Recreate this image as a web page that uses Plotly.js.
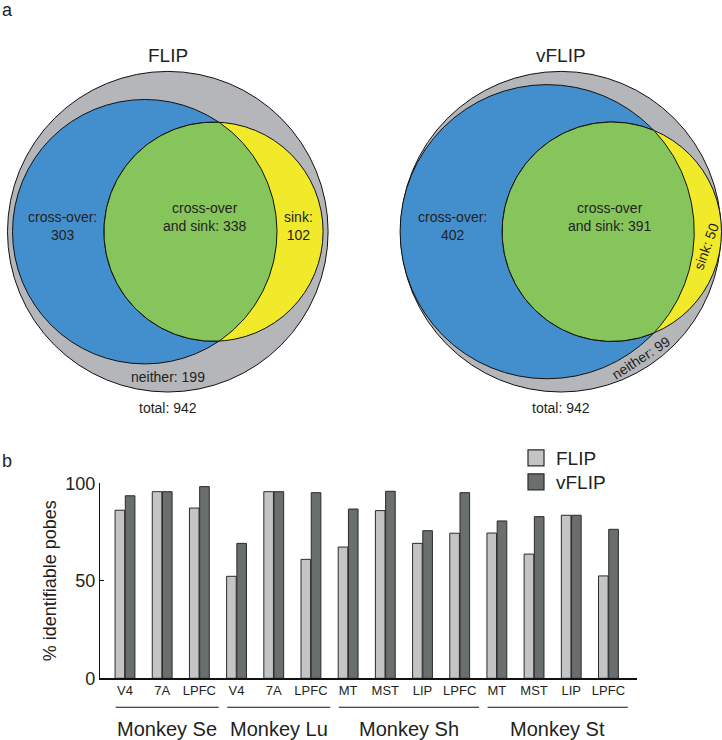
<!DOCTYPE html>
<html>
<head>
<meta charset="utf-8">
<script src="https://cdn.plot.ly/plotly-3.0.1.min.js"></script>
<style>html,body{margin:0;padding:0;background:#fff}#chart{width:722px;height:740px}</style>
</head>
<body>
<div id="chart"></div>
<script>
// ---------- Data ----------
// Panel a: Venn diagrams
const vennNames = ['FLIP', 'vFLIP'];
const crossOnly = [303, 402];
const crossAndSink = [338, 391];
const sinkOnly = [102, 50];
const neitherCount = [199, 99];
const totalCount = [942, 942];

// Panel b: grouped bars
const monkeys = ['Monkey Se', 'Monkey Lu', 'Monkey Sh', 'Monkey St'];
const areaLabels = ['V4', '7A', 'LPFC', 'V4', '7A', 'LPFC', 'MT', 'MST', 'LIP', 'LPFC', 'MT', 'MST', 'LIP', 'LPFC'];
const monkeyOfArea = [0, 0, 0, 1, 1, 1, 2, 2, 2, 2, 3, 3, 3, 3];
const flipPct  = [86.2, 95.7, 87.3, 52.3, 95.7, 61.0, 67.3, 86.0, 69.2, 74.4, 74.5, 63.7, 83.6, 52.5];
const vflipPct = [93.6, 95.7, 98.3, 69.2, 95.7, 95.2, 86.8, 95.9, 75.7, 95.2, 80.7, 82.9, 83.6, 76.4];
const seriesNames = ['FLIP', 'vFLIP'];

// ---------- Styling ----------
const FONT = 'Liberation Sans, Arial, Helvetica, sans-serif';
const TXT = '#231f20';
const C_GRAY = '#b4b6b9', C_BLUE = '#438fce', C_GREEN = '#86c55b', C_YELLOW = '#f1ea2b';
const C_FLIP = '#c4c4c4', C_VFLIP = '#6b6e6e', C_EDGE = '#2a2a2a';

const W = 722, H = 740;
const vennCenters = [[167.8, 231.7], [560.8, 231.7]];
const outerR = 160.3;

// ---------- Venn geometry (area proportional) ----------
function lensArea(r1, r2, d) {
  if (d >= r1 + r2) return 0;
  if (d <= Math.abs(r1 - r2)) return Math.PI * Math.min(r1, r2) ** 2;
  const a1 = Math.acos((d * d + r1 * r1 - r2 * r2) / (2 * d * r1));
  const a2 = Math.acos((d * d + r2 * r2 - r1 * r1) / (2 * d * r2));
  return r1 * r1 * a1 + r2 * r2 * a2 -
    0.5 * Math.sqrt((-d + r1 + r2) * (d + r1 - r2) * (d - r1 + r2) * (d + r1 + r2));
}

const shapes = [];
const traces = [];
const annotations = [];

vennNames.forEach((name, i) => {
  const [cx, cy] = vennCenters[i];
  const k = outerR / Math.sqrt(totalCount[i]);
  const unitArea = Math.PI * k * k;
  const r1 = k * Math.sqrt(crossOnly[i] + crossAndSink[i]);
  const r2 = k * Math.sqrt(crossAndSink[i] + sinkOnly[i]);
  const target = crossAndSink[i] * unitArea;
  let lo = Math.abs(r1 - r2) + 1e-6, hi = r1 + r2;
  for (let n = 0; n < 80; n++) {
    const mid = (lo + hi) / 2;
    if (lensArea(r1, r2, mid) > target) lo = mid; else hi = mid;
  }
  const d = (lo + hi) / 2;
  const c1 = cx - (d - r1 + r2) / 2;
  const c2 = c1 + d;

  const circ = (x, r, fill) => ({
    type: 'circle', xref: 'x2', yref: 'y2', layer: 'below',
    x0: x - r, x1: x + r, y0: cy - r, y1: cy + r,
    fillcolor: fill, line: {color: '#111', width: 1}
  });
  shapes.push(circ(cx, outerR, C_GRAY));
  shapes.push(circ(c1, r1, C_BLUE));
  shapes.push(circ(c2, r2, C_YELLOW));

  // lens (intersection) outline
  const a = (d * d + r1 * r1 - r2 * r2) / (2 * d);
  const h = Math.sqrt(r1 * r1 - a * a);
  const t2 = Math.atan2(h, a - d);
  const t1 = Math.atan2(h, a);
  const lx = [], ly = [];
  const N = 160;
  for (let j = 0; j <= N; j++) {
    const t = t2 + (2 * Math.PI - 2 * t2) * j / N;
    lx.push(c2 + r2 * Math.cos(t)); ly.push(cy + r2 * Math.sin(t));
  }
  for (let j = 0; j <= N; j++) {
    const t = -t1 + 2 * t1 * j / N;
    lx.push(c1 + r1 * Math.cos(t)); ly.push(cy + r1 * Math.sin(t));
  }
  traces.push({
    type: 'scatter', mode: 'lines', x: lx, y: ly, xaxis: 'x2', yaxis: 'y2',
    fill: 'toself', fillcolor: C_GREEN, line: {color: '#111', width: 1},
    hoverinfo: 'skip', showlegend: false
  });

  const ann = (x, y, text, size, extra) => Object.assign({
    xref: 'x2', yref: 'y2', x: x, y: y, text: text, showarrow: false,
    font: {family: FONT, size: size, color: TXT}, xanchor: 'center', yanchor: 'middle'
  }, extra || {});

  annotations.push(ann(cx, cy - 176.5, name, 19));
  annotations.push(ann(cx, cy + 176.5, 'total: ' + totalCount[i], 14));
  const crossX = i === 0 ? cx - 105.5 : cx - 108;
  annotations.push(ann(crossX, cy - 6, 'cross-over:<br>' + crossOnly[i], 14));
  const bothX = i === 0 ? cx + 36.5 : cx + 48.5;
  annotations.push(ann(bothX, cy - 14.5, 'cross-over<br>and sink: ' + crossAndSink[i], 14));
  if (i === 0) {
    annotations.push(ann(cx + 131, cy - 6, 'sink:<br>' + sinkOnly[i], 14));
    annotations.push(ann(cx, cy + 145, 'neither: ' + neitherCount[i], 14));
  } else {
    annotations.push(ann(cx + 145, cy + 15, 'sink: ' + sinkOnly[i], 14, {textangle: -70}));
    annotations.push(ann(cx + 80, cy + 126.5, 'neither: ' + neitherCount[i], 14, {textangle: -33}));
  }
});

// ---------- Bars ----------
const xIdx = areaLabels.map((_, i) => i);
traces.push({
  type: 'bar', name: seriesNames[0], x: xIdx, y: flipPct, xaxis: 'x', yaxis: 'y',
  marker: {color: C_FLIP, line: {color: C_EDGE, width: 1}}, showlegend: false, hoverinfo: 'y'
});
traces.push({
  type: 'bar', name: seriesNames[1], x: xIdx, y: vflipPct, xaxis: 'x', yaxis: 'y',
  marker: {color: C_VFLIP, line: {color: C_EDGE, width: 1}}, showlegend: false, hoverinfo: 'y'
});
// legend entries (one legend box each) with larger square symbols
[C_FLIP, C_VFLIP].forEach((c, i) => {
  traces.push({
    type: 'scatter', mode: 'markers', name: seriesNames[i], x: [null], y: [null],
    xaxis: 'x', yaxis: 'y', hoverinfo: 'skip', legend: i === 0 ? 'legend' : 'legend2',
    marker: {symbol: 'square', size: 16, color: c, line: {color: C_EDGE, width: 1.2}}
  });
});

// group underlines and labels
const groupLineY = 1 - 707.3 / H;
const groupLabelY = 1 - 728.5 / H;
monkeys.forEach((m, g) => {
  const idx = xIdx.filter(i => monkeyOfArea[i] === g);
  const x0 = idx[0] - 0.25, x1 = idx[idx.length - 1] + 0.52;
  shapes.push({type: 'line', xref: 'x', yref: 'paper', x0: x0, x1: x1, y0: groupLineY, y1: groupLineY,
    line: {color: '#111', width: 1.1}});
  annotations.push({xref: 'x', yref: 'paper', x: (x0 + x1) / 2, y: groupLabelY, text: m, showarrow: false,
    font: {family: FONT, size: 20, color: TXT}, xanchor: 'center', yanchor: 'middle'});
});

// panel letters
annotations.push({xref: 'paper', yref: 'paper', x: 0, y: 1 - 10 / H, text: 'a', showarrow: false,
  font: {family: FONT, size: 18, color: TXT}, xanchor: 'left', yanchor: 'middle'});
annotations.push({xref: 'paper', yref: 'paper', x: 0, y: 1 - 461 / H, text: 'b', showarrow: false,
  font: {family: FONT, size: 18, color: TXT}, xanchor: 'left', yanchor: 'middle'});

const legendBase = {xanchor: 'left', yanchor: 'top',
  font: {family: FONT, size: 19, color: TXT}, bgcolor: 'rgba(0,0,0,0)', itemwidth: 30};

const layout = {
  width: W, height: H,
  margin: {l: 0, r: 0, t: 0, b: 0},
  paper_bgcolor: '#fff', plot_bgcolor: 'rgba(0,0,0,0)',
  font: {family: FONT, color: TXT},
  barmode: 'group', bargap: 0.45, bargroupgap: 0.06,
  showlegend: true,
  legend: Object.assign({x: 516 / W, y: 1 - 439 / H}, legendBase),
  legend2: Object.assign({x: 516 / W, y: 1 - 463 / H}, legendBase),
  xaxis: {
    domain: [100 / W, 636.7 / W], range: [-0.672, 13.76],
    tickmode: 'array', tickvals: xIdx, ticktext: areaLabels,
    ticks: '', showgrid: false, zeroline: false,
    showline: true, linecolor: '#111', linewidth: 1.2,
    tickfont: {family: FONT, size: 13, color: TXT}, anchor: 'y', fixedrange: true
  },
  yaxis: {
    domain: [1 - 678.3 / H, 1 - 483.3 / H], range: [0, 100],
    tickvals: [0, 50, 100], ticks: 'inside', ticklen: 4, tickcolor: '#111', tickwidth: 1.2,
    showgrid: false, zeroline: false, showline: true, linecolor: '#111', linewidth: 1.2,
    tickfont: {family: FONT, size: 18, color: TXT}, anchor: 'x', fixedrange: true,
    title: {text: '% identifiable pobes', font: {family: FONT, size: 18, color: TXT}, standoff: 3}
  },
  xaxis2: {domain: [0, 1], range: [0, W], visible: false, fixedrange: true, anchor: 'y2'},
  yaxis2: {domain: [1 - 420 / H, 1], range: [420, 0], visible: false, fixedrange: true, anchor: 'x2'},
  shapes: shapes,
  annotations: annotations
};

Plotly.newPlot('chart', traces, layout, {displayModeBar: false, staticPlot: true});
</script>
</body>
</html>
